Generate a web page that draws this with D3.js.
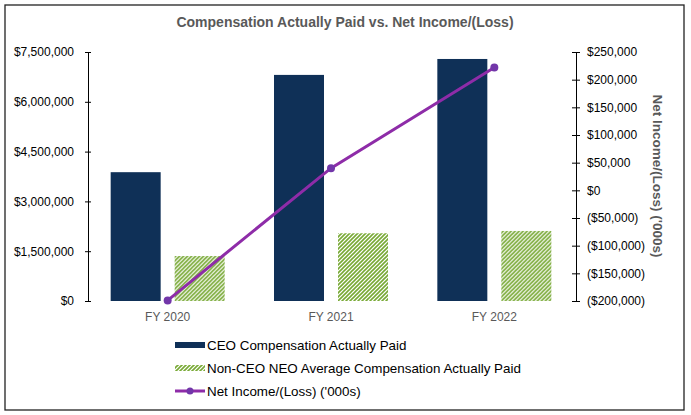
<!DOCTYPE html>
<html>
<head>
<meta charset="utf-8">
<script src="https://cdnjs.cloudflare.com/ajax/libs/d3/7.8.5/d3.min.js"></script>
<style>
  body { margin: 0; background: #fff; }
  svg { display: block; font-family: "Liberation Sans", Arial, sans-serif; }
</style>
</head>
<body>
<svg id="chart" width="691" height="415"></svg>
<script>
// data
var categories = ["FY 2020", "FY 2021", "FY 2022"];
var ceoPaid = [3880000, 6810000, 7290000];
var neoPaid = [1355000, 2040000, 2110000];
var netIncome = [-199000, 40000, 222000];
var leftTicks = [0, 1500000, 3000000, 4500000, 6000000, 7500000];
var rightTicks = [-200000, -150000, -100000, -50000, 0, 50000, 100000, 150000, 200000, 250000];
var seriesNames = ["CEO Compensation Actually Paid",
                   "Non-CEO NEO Average Compensation Actually Paid",
                   "Net Income/(Loss) ('000s)"];

var navy = "#0f3057", green = "#78a935", purple = "#8e2ca8", marker = "#7236a9";

var svg = d3.select("#chart");

// outer frame
svg.append("rect")
    .attr("x", 5).attr("y", 5)
    .attr("width", 679).attr("height", 405)
    .attr("fill", "#fff")
    .attr("stroke", "#222").attr("stroke-width", 1.3);

// hatch pattern for the non-CEO bars
var defs = svg.append("defs");
var pat = defs.append("pattern")
    .attr("id", "hatch")
    .attr("patternUnits", "userSpaceOnUse")
    .attr("width", 4).attr("height", 4);
pat.append("rect").attr("width", 4).attr("height", 4).attr("fill", "#fff");
pat.append("path")
    .attr("d", "M-1,1 l2,-2 M0,4 l4,-4 M3,5 l2,-2")
    .attr("stroke", green).attr("stroke-width", 1.6);

var x = d3.scaleBand().domain(categories).range([86, 576]);
var x1 = d3.scaleBand().domain(["ceo", "neo"]).range([-57, 57]).paddingInner(0.21875);
var yL = d3.scaleLinear().domain([0, 7500000]).range([301, 52]);
var yR = d3.scaleLinear().domain([-200000, 250000]).range([301, 52]);

var fmt = d3.format(",");

// title
svg.append("text")
    .attr("x", 345).attr("y", 27)
    .attr("text-anchor", "middle")
    .attr("font-size", 14).attr("font-weight", "bold")
    .attr("fill", "#595959")
    .text("Compensation Actually Paid vs. Net Income/(Loss)");

// bars
var groups = svg.append("g").selectAll("g")
    .data(categories)
    .join("g")
    .attr("transform", function(d) { return "translate(" + (x(d) + x.bandwidth() / 2) + ",0)"; });

groups.append("rect")
    .attr("x", x1("ceo"))
    .attr("width", x1.bandwidth())
    .attr("y", function(d, i) { return yL(ceoPaid[i]); })
    .attr("height", function(d, i) { return yL(0) - yL(ceoPaid[i]); })
    .attr("fill", navy);

groups.append("rect")
    .attr("x", x1("neo"))
    .attr("width", x1.bandwidth())
    .attr("y", function(d, i) { return yL(neoPaid[i]); })
    .attr("height", function(d, i) { return yL(0) - yL(neoPaid[i]); })
    .attr("fill", "url(#hatch)");

// left axis
var axL = svg.append("g")
    .attr("transform", "translate(88,0)")
    .call(d3.axisLeft(yL).tickValues(leftTicks).tickSize(3).tickPadding(11)
        .tickFormat(function(v) { return "$" + fmt(v); }));
axL.select(".domain").attr("stroke", "#000");
axL.selectAll(".tick line").attr("x1", 3).attr("x2", -3).attr("stroke", "#000");
axL.selectAll("text").attr("font-size", 12).attr("fill", "#000")
    .attr("font-family", "Liberation Sans, Arial, sans-serif");

// right axis
var axR = svg.append("g")
    .attr("transform", "translate(576,0)")
    .call(d3.axisRight(yR).tickValues(rightTicks).tickSize(4).tickPadding(7)
        .tickFormat(function(v) { return v < 0 ? "($" + fmt(-v) + ")" : "$" + fmt(v); }));
axR.select(".domain").attr("stroke", "#000");
axR.selectAll(".tick line").attr("x1", -4).attr("x2", 4).attr("stroke", "#000");
axR.selectAll("text").attr("font-size", 12).attr("fill", "#000")
    .attr("font-family", "Liberation Sans, Arial, sans-serif");

// right axis title
svg.append("text")
    .attr("transform", "translate(653,176) rotate(90)")
    .attr("text-anchor", "middle")
    .attr("font-size", 13.5).attr("font-weight", "bold")
    .attr("fill", "#595959")
    .text("Net Income/(Loss) ('000s)");

// category labels
svg.append("g").selectAll("text")
    .data(categories)
    .join("text")
    .attr("x", function(d) { return x(d) + x.bandwidth() / 2; })
    .attr("y", 321)
    .attr("text-anchor", "middle")
    .attr("font-size", 12)
    .attr("fill", "#595959")
    .text(function(d) { return d; });

// net income line
var line = d3.line()
    .x(function(d, i) { return x(categories[i]) + x.bandwidth() / 2; })
    .y(function(d) { return yR(d); });

svg.append("path")
    .datum(netIncome)
    .attr("d", line)
    .attr("fill", "none")
    .attr("stroke", purple)
    .attr("stroke-width", 3);

svg.append("g").selectAll("circle")
    .data(netIncome)
    .join("circle")
    .attr("cx", function(d, i) { return x(categories[i]) + x.bandwidth() / 2; })
    .attr("cy", function(d) { return yR(d); })
    .attr("r", 4)
    .attr("fill", marker);

// legend
var legend = svg.append("g").attr("transform", "translate(175,0)");
var ly = [345, 368, 391];

legend.append("rect")
    .attr("x", 0).attr("y", ly[0] - 3).attr("width", 30).attr("height", 6)
    .attr("fill", navy);
legend.append("rect")
    .attr("x", 0).attr("y", ly[1] - 3).attr("width", 30).attr("height", 6)
    .attr("fill", "url(#hatch)");
legend.append("line")
    .attr("x1", 0).attr("x2", 30).attr("y1", ly[2]).attr("y2", ly[2])
    .attr("stroke", purple).attr("stroke-width", 3);
legend.append("circle")
    .attr("cx", 15).attr("cy", ly[2]).attr("r", 3.5)
    .attr("fill", marker);

legend.selectAll("text.lg")
    .data(seriesNames)
    .join("text")
    .attr("class", "lg")
    .attr("x", 32)
    .attr("y", function(d, i) { return ly[i] + 4.5; })
    .attr("font-size", 13.4)
    .attr("fill", "#000")
    .text(function(d) { return d; });
</script>
</body>
</html>
